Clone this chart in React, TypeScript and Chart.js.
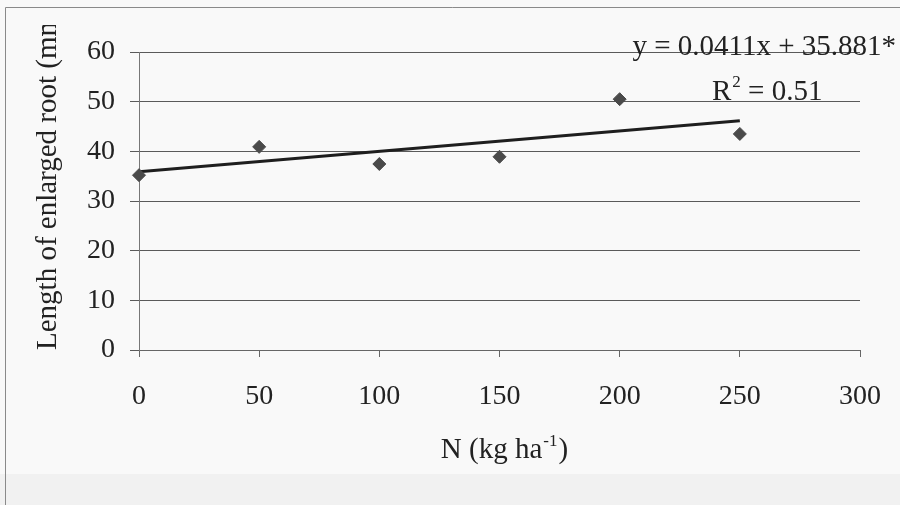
import React, { useEffect, useRef } from "react";
import { Chart, registerables } from "chart.js";

Chart.register(...registerables);

// ---- data ----
const nLevels = [0, 50, 100, 150, 200, 250];
const rootLength = [35.2, 40.9, 37.45, 38.9, 50.5, 43.5];
const trendSlope = 0.0411;
const trendIntercept = 35.881;
const trendRange = [0, 250];
const xTickValues = [0, 50, 100, 150, 200, 250, 300];
const yTickValues = [0, 10, 20, 30, 40, 50, 60];
const yTitle = "Length of enlarged root (mm)";
const xTitleMain = "N (kg ha";
const xTitleSup = "-1";
const xTitleEnd = ")";
const equationText = "y = 0.0411x + 35.881*";
const r2Main = "R";
const r2Sup = "2";
const r2Rest = " = 0.51";

const SERIF = '"Liberation Serif", "Times New Roman", serif';

const textPlugin = {
  id: "textPlugin",
  beforeDraw(chart: any) {
    const { ctx, width, height } = chart;
    ctx.save();
    ctx.fillStyle = "#f9f9f9";
    ctx.fillRect(0, 0, width, height);
    ctx.fillStyle = "#f1f1f1";
    ctx.fillRect(0, 474, width, height - 474);
    ctx.strokeStyle = "#8a8a8a";
    ctx.lineWidth = 1;
    ctx.beginPath();
    ctx.moveTo(5.5, height);
    ctx.lineTo(5.5, 7.5);
    ctx.lineTo(width, 7.5);
    ctx.stroke();
    ctx.restore();
  },
  afterDraw(chart: any) {
    const { ctx } = chart;
    const xs = chart.scales.x;
    const ys = chart.scales.y;
    ctx.save();
    ctx.fillStyle = "#222";
    // y title (clipped at top like the original)
    ctx.save();
    ctx.beginPath();
    ctx.rect(6, 25, 120, 470);
    ctx.clip();
    ctx.translate(48, ys.bottom);
    ctx.rotate(-Math.PI / 2);
    ctx.font = `29px ${SERIF}`;
    ctx.textAlign = "left";
    ctx.textBaseline = "middle";
    ctx.fillText(yTitle, 0, 0);
    ctx.restore();

    // x title with superscript
    const big = `29px ${SERIF}`;
    const small = `17px ${SERIF}`;
    ctx.font = big;
    const w1 = ctx.measureText(xTitleMain).width;
    const w3 = ctx.measureText(xTitleEnd).width;
    ctx.font = small;
    const w2 = ctx.measureText(xTitleSup).width;
    const total = w1 + w2 + w3;
    const cx = (xs.left + xs.right) / 2 + 4;
    const x0 = cx - total / 2;
    const base = 458;
    ctx.textAlign = "left";
    ctx.textBaseline = "alphabetic";
    ctx.font = big;
    ctx.fillText(xTitleMain, x0, base);
    ctx.font = small;
    ctx.fillText(xTitleSup, x0 + w1 + 1, base - 12);
    ctx.font = big;
    ctx.fillText(xTitleEnd, x0 + w1 + w2 + 2, base);

    // equation
    ctx.font = `29px ${SERIF}`;
    ctx.fillText(equationText, xs.getPixelForValue(205.3), ys.getPixelForValue(59.4));
    // R^2
    const rx = xs.getPixelForValue(238.4);
    const ry = ys.getPixelForValue(50.3);
    ctx.fillText(r2Main, rx, ry);
    const rw = ctx.measureText(r2Main).width;
    ctx.font = `17px ${SERIF}`;
    ctx.fillText(r2Sup, rx + rw + 1, ry - 13);
    const sw = ctx.measureText(r2Sup).width;
    ctx.font = `29px ${SERIF}`;
    ctx.fillText(r2Rest, rx + rw + sw + 1, ry);
    ctx.restore();
  },
};

export default function App() {
  const ref = useRef<HTMLCanvasElement | null>(null);
  useEffect(() => {
    document.body.style.margin = "0";
    const canvas = ref.current!;
    const trendData = trendRange.map((x) => ({ x, y: trendSlope * x + trendIntercept }));
    const chart = new Chart(canvas, {
      type: "scatter",
      data: {
        datasets: [
          {
            label: "Length",
            data: nLevels.map((x, i) => ({ x, y: rootLength[i] })),
            pointStyle: "rectRot",
            pointRadius: 6.5,
            backgroundColor: "#4a4a4a",
            borderColor: "#4a4a4a",
            borderWidth: 1,
            showLine: false,
            clip: false,
            order: 1,
          },
          {
            label: "Trend",
            data: trendData,
            showLine: true,
            borderColor: "#1e1e1e",
            borderWidth: 3,
            pointRadius: 0,
            clip: false,
            order: 2,
          },
        ],
      },
      options: {
        animation: false,
        responsive: false,
        maintainAspectRatio: false,
        layout: { padding: { top: 52, right: 40, left: 0, bottom: 0 } },
        plugins: { legend: { display: false }, tooltip: { enabled: false } },
        scales: {
          x: {
            type: "linear",
            min: 0,
            max: 300,
            afterFit: (s: any) => {
              s.height = 155;
              s.paddingRight = 0;
              s.paddingLeft = 0;
            },
            afterBuildTicks: (s: any) => {
              s.ticks = xTickValues.map((v) => ({ value: v }));
            },
            grid: {
              drawOnChartArea: false,
              drawTicks: true,
              tickLength: 7,
              color: "#666",
              lineWidth: 1,
            },
            border: { display: true, color: "#666", width: 1 },
            ticks: {
              color: "#222",
              font: { family: SERIF, size: 28 },
              padding: 23,
              maxRotation: 0,
            },
          },
          y: {
            type: "linear",
            min: 0,
            max: 60,
            afterFit: (s: any) => {
              s.width = 139;
              s.paddingTop = 0;
              s.paddingBottom = 0;
            },
            afterBuildTicks: (s: any) => {
              s.ticks = yTickValues.map((v) => ({ value: v }));
            },
            grid: {
              drawOnChartArea: true,
              drawTicks: true,
              tickLength: 9,
              color: "#5a5a5a",
              lineWidth: 1,
            },
            border: { display: true, color: "#777", width: 1 },
            ticks: {
              color: "#222",
              font: { family: SERIF, size: 28 },
              padding: 15,
            },
          },
        },
      },
      plugins: [textPlugin],
    });
    return () => chart.destroy();
  }, []);
  return <canvas ref={ref} width={900} height={505} style={{ display: "block" }} />;
}
